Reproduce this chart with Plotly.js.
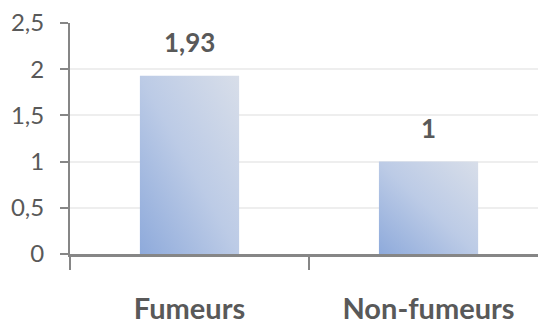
<!DOCTYPE html>
<html>
<head>
<meta charset="utf-8">
<script src="https://cdn.plot.ly/plotly-3.0.1.min.js"></script>
<style>html,body{margin:0;padding:0;background:#fff;}#chart{width:538px;height:324px;}</style>
</head>
<body>
<div id="chart"></div>
<script>
const categories = ["Fumeurs", "Non-fumeurs"];
const values = [1.93, 1];
const valueLabels = ["1,93", "1"];
const yTickVals = [0, 0.5, 1, 1.5, 2, 2.5];
const yTickText = ["0", "0,5", "1", "1,5", "2", "2,5"];

const textColor = "#595959";
const axisColor = "#868686";

const trace = {
  type: "bar",
  x: categories,
  y: values,
  marker: { color: "#bccbe5" },
  hoverinfo: "none"
};

const annotations = categories.map((c, i) => ({
  x: c, y: values[i], xref: "x", yref: "y",
  text: "<b>" + valueLabels[i] + "</b>",
  showarrow: false, yanchor: "bottom", yshift: 16,
  font: { family: "Lato, sans-serif", size: 26, color: textColor }
}));

const layout = {
  width: 538, height: 324,
  margin: { l: 70, r: 0, t: 23, b: 70, pad: 0 },
  paper_bgcolor: "#ffffff", plot_bgcolor: "#ffffff",
  showlegend: false,
  bargap: 0.585,
  font: { family: "Lato, sans-serif", color: textColor },
  xaxis: {
    type: "category",
    range: [-0.5, 1.458],
    showline: true, linecolor: axisColor, linewidth: 2.5,
    ticks: "outside", tickson: "boundaries", ticklen: 13, tickwidth: 2, tickcolor: axisColor,
    showgrid: false, zeroline: false,
    tickfont: { family: "Lato, sans-serif", size: 29, color: textColor, weight: "bold" },
    ticklabelstandoff: 28,
    fixedrange: true
  },
  yaxis: {
    range: [0, 2.5],
    tickvals: yTickVals, ticktext: yTickText,
    showline: true, linecolor: axisColor, linewidth: 2,
    ticks: "outside", ticklen: 8, tickwidth: 2, tickcolor: axisColor,
    showgrid: true, gridcolor: "#eeeeee", gridwidth: 2,
    zeroline: false,
    tickfont: { family: "Lato, sans-serif", size: 24, color: textColor },
    ticklabelstandoff: 11,
    fixedrange: true
  },
  annotations: annotations
};

Plotly.newPlot("chart", [trace], layout, { displayModeBar: false, staticPlot: true }).then(function (gd) {
  const svg = gd.querySelector("svg.main-svg");
  const ns = "http://www.w3.org/2000/svg";
  let defs = svg.querySelector("defs");
  if (!defs) { defs = document.createElementNS(ns, "defs"); svg.insertBefore(defs, svg.firstChild); }
  const grad = document.createElementNS(ns, "linearGradient");
  grad.setAttribute("id", "barGrad");
  grad.setAttribute("x1", "0"); grad.setAttribute("y1", "1");
  grad.setAttribute("x2", "1"); grad.setAttribute("y2", "0");
  [["0", "#8eaadb"], ["0.5", "#bccbe6"], ["1", "#d8dee9"]].forEach(function (s) {
    const st = document.createElementNS(ns, "stop");
    st.setAttribute("offset", s[0]);
    st.setAttribute("stop-color", s[1]);
    grad.appendChild(st);
  });
  defs.appendChild(grad);
  gd.querySelectorAll(".barlayer .point path").forEach(function (p) {
    p.style.fill = "url(#barGrad)";
  });
});
</script>
</body>
</html>
